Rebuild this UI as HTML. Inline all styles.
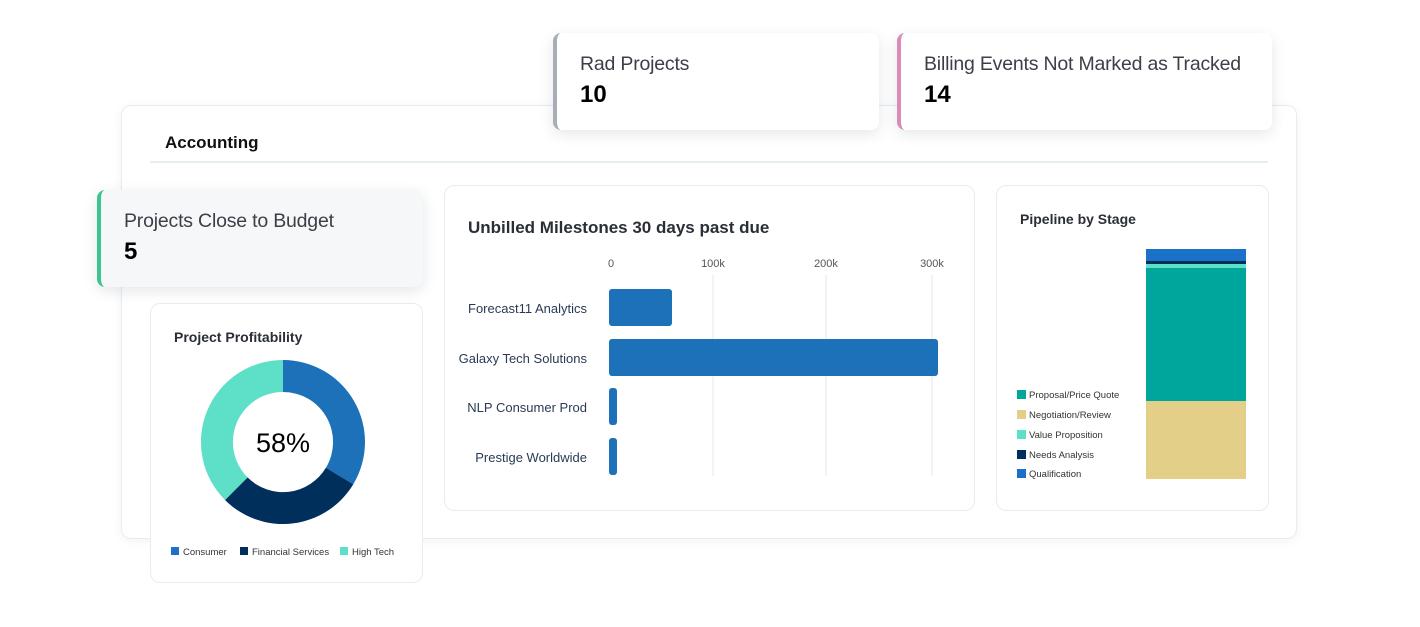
<!DOCTYPE html>
<html><head><style>
body{margin:0;width:1420px;height:627px;background:#fff;font-family:"Liberation Sans",sans-serif;position:relative;overflow:hidden;color:#1f2430}
.abs{position:absolute;box-sizing:border-box}
.card{background:#fff;border:1px solid #e8ecef;border-radius:10px}
.kpi{border-radius:8px;box-shadow:0 4px 14px rgba(40,60,80,.12);background:#fff}
.kpi .t{position:absolute;left:23px;top:20px;font-size:19.5px;letter-spacing:-0.2px;color:#3b3f47}
.kpi .v{position:absolute;left:23px;top:48px;font-size:24px;font-weight:bold;color:#000}
</style></head><body>
<div class="abs card" style="left:121px;top:105px;width:1176px;height:434px;box-shadow:0 2px 10px rgba(40,60,80,.06)"></div>
<div class="abs" style="left:165px;top:133px;font-size:17px;font-weight:bold;color:#111">Accounting</div>
<div class="abs" style="left:150px;top:161px;width:1118px;height:2px;background:#e6eef2"></div>

<div class="abs kpi" style="left:553px;top:33px;width:326px;height:97px;border-left:4px solid #a9adb8"><div class="t">Rad Projects</div><div class="v">10</div></div>
<div class="abs kpi" style="left:897px;top:33px;width:375px;height:97px;border-left:4px solid #d98cb8"><div class="t">Billing Events Not Marked as Tracked</div><div class="v">14</div></div>
<div class="abs kpi" style="left:97px;top:190px;width:326px;height:97px;border-left:4px solid #3ec48f;background:#f5f7f8"><div class="t">Projects Close to Budget</div><div class="v">5</div></div>

<div class="abs card" style="left:150px;top:303px;width:273px;height:280px"></div>
<div class="abs" style="left:174px;top:329px;font-size:14px;font-weight:bold;color:#2a2e36">Project Profitability</div>
<svg class="abs" style="left:0;top:0" width="1420" height="627">
<g transform="translate(283,442)">
<path d="M0,-82 A82,82 0 0 1 70.3,42.2 L42.9,25.8 A50,50 0 0 0 0,-50Z" fill="#1c71b8"/>
<path d="M70.3,42.2 A82,82 0 0 1 -58,58 L-35.4,35.4 A50,50 0 0 0 42.9,25.8Z" fill="#012f5c"/>
<path d="M-58,58 A82,82 0 0 1 0,-82 L0,-50 A50,50 0 0 0 -35.4,35.4Z" fill="#5ddfc8"/>
<text x="0" y="10" text-anchor="middle" font-size="27" font-weight="500" fill="#000" font-family="Liberation Sans">58%</text>
</g>
<g font-size="9.5" fill="#333" font-family="Liberation Sans">
<rect x="171" y="547" width="8" height="8" fill="#1c71c8"/><text x="183" y="555">Consumer</text>
<rect x="240" y="547" width="8" height="8" fill="#012f5c"/><text x="252" y="555">Financial Services</text>
<rect x="340" y="547" width="8" height="8" fill="#5ddfc8"/><text x="352" y="555">High Tech</text>
</g>
</svg>

<div class="abs card" style="left:444px;top:185px;width:531px;height:326px"></div>
<div class="abs" style="left:468px;top:218px;font-size:17px;font-weight:bold;color:#2a2e36">Unbilled Milestones 30 days past due</div>
<div class="abs card" style="left:996px;top:185px;width:273px;height:326px"></div>
<div class="abs" style="left:1020px;top:211px;font-size:14px;font-weight:bold;color:#2a2e36">Pipeline by Stage</div>

<svg class="abs" style="left:0;top:0" width="1420" height="627">
<g stroke="#e4e7ea" stroke-width="1">
<line x1="713" y1="275" x2="713" y2="476"/><line x1="826" y1="275" x2="826" y2="476"/><line x1="932" y1="275" x2="932" y2="476"/>
</g>
<g font-size="11" fill="#555" text-anchor="middle" font-family="Liberation Sans">
<text x="611" y="267">0</text><text x="713" y="267">100k</text><text x="826" y="267">200k</text><text x="932" y="267">300k</text>
</g>
<g font-size="13" fill="#2a3a55" text-anchor="end" font-family="Liberation Sans">
<text x="587" y="313">Forecast11 Analytics</text>
<text x="587" y="363">Galaxy Tech Solutions</text>
<text x="587" y="412">NLP Consumer Prod</text>
<text x="587" y="462">Prestige Worldwide</text>
</g>
<g fill="#1c71b8">
<rect x="609" y="289" width="63" height="37" rx="3"/>
<rect x="609" y="339" width="329" height="37" rx="3"/>
<rect x="609" y="388" width="8" height="37" rx="3"/>
<rect x="609" y="438" width="8" height="37" rx="3"/>
</g>
<rect x="1146" y="249" width="100" height="12" fill="#1a72c8"/>
<rect x="1146" y="261" width="100" height="3" fill="#012f5c"/>
<rect x="1146" y="264" width="100" height="4" fill="#5ddfc8"/>
<rect x="1146" y="268" width="100" height="133" fill="#00a59c"/>
<rect x="1146" y="401" width="100" height="78" fill="#e3cf87"/>
<g font-size="9.5" fill="#333" font-family="Liberation Sans">
<rect x="1017" y="390" width="9" height="9" fill="#00a59c"/><text x="1029" y="398">Proposal/Price Quote</text>
<rect x="1017" y="410" width="9" height="9" fill="#e3cf87"/><text x="1029" y="418">Negotiation/Review</text>
<rect x="1017" y="430" width="9" height="9" fill="#5ddfc8"/><text x="1029" y="438">Value Proposition</text>
<rect x="1017" y="450" width="9" height="9" fill="#012f5c"/><text x="1029" y="458">Needs Analysis</text>
<rect x="1017" y="469" width="9" height="9" fill="#1a72c8"/><text x="1029" y="477">Qualification</text>
</g>
</svg>
</body></html>
